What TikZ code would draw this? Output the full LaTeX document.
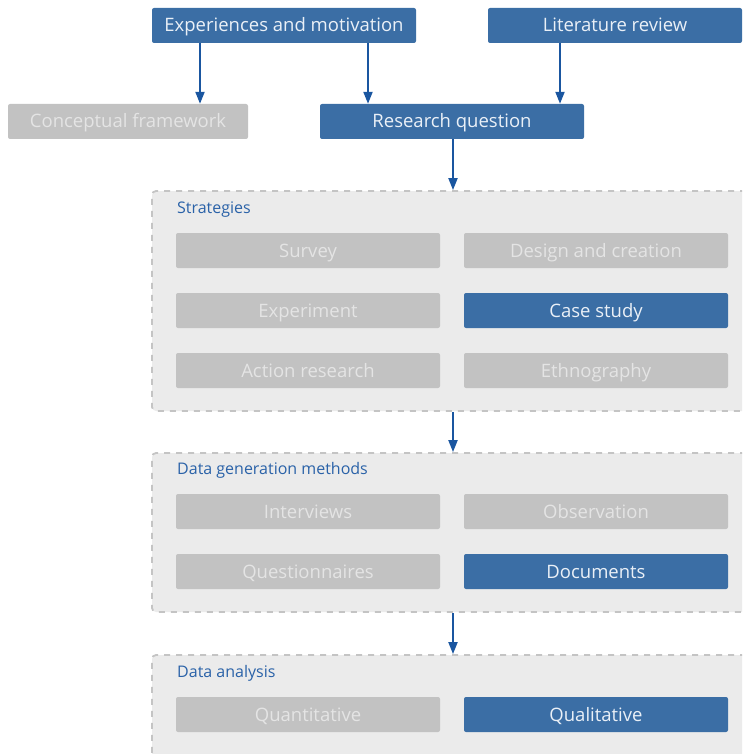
\documentclass[tikz,border=0pt]{standalone}
\usepackage{fontspec}
\setmainfont{Open Sans}
\usetikzlibrary{arrows.meta}
\definecolor{bluebox}{HTML}{3B6EA5}
\definecolor{greybox}{HTML}{C2C2C2}
\definecolor{greytext}{HTML}{E4E4E4}
\definecolor{bluetext}{HTML}{EAF0F7}
\definecolor{arrowblue}{HTML}{1A56A0}
\definecolor{contfill}{HTML}{EBEBEB}
\definecolor{contline}{HTML}{C4C4C4}
\definecolor{labelblue}{HTML}{2A62A8}
\tikzset{
  basebox/.style={rounded corners=2pt, minimum height=35pt, inner sep=0pt, text height=15pt, text depth=2pt, font=\fontsize{18.5}{20}\selectfont},
  bluenode/.style={basebox, fill=bluebox, text=bluetext},
  greynode/.style={basebox, fill=greybox, text=greytext},
  container/.style={rounded corners=4pt, fill=contfill, draw=contline, line width=1.8pt, dash pattern=on 6pt off 6pt, minimum width=598pt, inner sep=0pt},
  contlabel/.style={anchor=west, inner sep=0pt, text height=11.5pt, text depth=3pt, text=labelblue, font=\fontsize{16}{18}\selectfont},
  arr/.style={draw=arrowblue, line width=2pt, -{Triangle[length=12pt,width=9pt]}}
}
\begin{document}
\begin{tikzpicture}[x=1pt,y=-1pt]
\useasboundingbox (0,0) rectangle (742,754);
\clip (0,0) rectangle (742,754);
% top nodes
\node[bluenode, minimum width=264pt] (exp) at (284,25.5) {Experiences and motivation};
\node[bluenode, minimum width=254pt] (lit) at (615,25.5) {Literature review};
\node[greynode, minimum width=240pt] (conc) at (128,121.5) {Conceptual framework};
\node[bluenode, minimum width=264pt] (rq) at (452,121.5) {Research question};
% containers
\node[container, minimum height=220pt] (c1) at (451,301) {};
\node[container, minimum height=159pt] (c2) at (451,532.5) {};
\node[container, minimum height=115pt] (c3) at (451,712.5) {};
\node[contlabel] (l1) at (177,209) {Strategies};
\node[contlabel] (l2) at (177,470.5) {Data generation methods};
\node[contlabel] (l3) at (177,673.5) {Data analysis};
% strategies
\node[greynode, minimum width=264pt] (survey) at (308,250.5) {Survey};
\node[greynode, minimum width=264pt] (design) at (596,250.5) {Design and creation};
\node[greynode, minimum width=264pt] (exper) at (308,310.5) {Experiment};
\node[bluenode, minimum width=264pt] (case) at (596,310.5) {Case study};
\node[greynode, minimum width=264pt] (action) at (308,370.5) {Action research};
\node[greynode, minimum width=264pt] (ethno) at (596,370.5) {Ethnography};
% data generation
\node[greynode, minimum width=264pt] (interv) at (308,511.5) {Interviews};
\node[greynode, minimum width=264pt] (obs) at (596,511.5) {Observation};
\node[greynode, minimum width=264pt] (quest) at (308,571.5) {Questionnaires};
\node[bluenode, minimum width=264pt] (docs) at (596,571.5) {Documents};
% analysis
\node[greynode, minimum width=264pt] (quant) at (308,714.5) {Quantitative};
\node[bluenode, minimum width=264pt] (qual) at (596,714.5) {Qualitative};
% arrows
\draw[arr] ([xshift=-84pt]exp.south) -- ([xshift=-84pt]exp.south |- conc.north);
\draw[arr] ([xshift=84pt]exp.south) -- ([xshift=84pt]exp.south |- rq.north);
\draw[arr] ([xshift=-55pt]lit.south) -- ([xshift=-55pt]lit.south |- rq.north);
\draw[arr] ([xshift=1pt]rq.south) -- ([xshift=1pt]rq.south |- c1.north);
\draw[arr] ([xshift=1pt]rq.south |- c1.south) -- ([xshift=1pt]rq.south |- c2.north);
\draw[arr] ([xshift=1pt]rq.south |- c2.south) -- ([xshift=1pt]rq.south |- c3.north);
\end{tikzpicture}
\end{document}
